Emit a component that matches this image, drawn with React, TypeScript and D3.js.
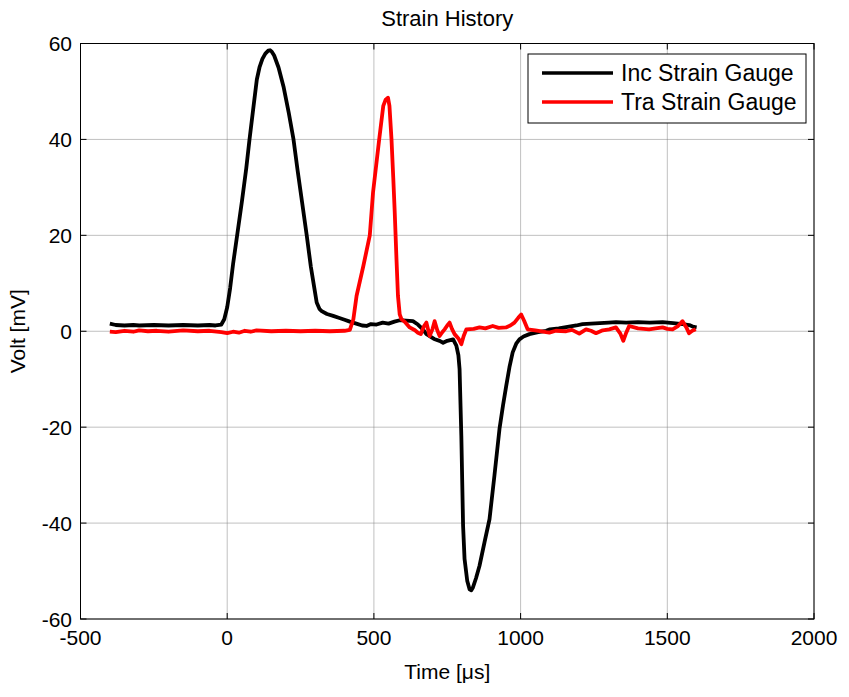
import React from "react";
import * as d3 from "d3";

const xTicks = [-500, 0, 500, 1000, 1500, 2000];
const yTicks = [-60, -40, -20, 0, 20, 40, 60];

const incTime = [-400, -380, -350, -320, -300, -250, -200, -150, -100, -60, -40, -20, -10, 0, 10, 20, 35, 50, 65, 76, 90, 101, 110, 120, 130, 140, 146, 152, 160, 175, 192, 210, 226, 240, 255, 271, 285, 297, 305, 315, 322, 340, 361, 380, 400, 418, 440, 460, 475, 490, 509, 530, 550, 570, 588, 610, 633, 650, 667, 679, 690, 705, 724, 736, 750, 770, 781, 788, 792, 798, 804, 809, 818, 826, 832, 837, 848, 860, 877, 894, 911, 928, 940, 951, 962, 973, 985, 996, 1010, 1030, 1060, 1087, 1100, 1130, 1160, 1190, 1211, 1240, 1270, 1300, 1325, 1360, 1400, 1440, 1484, 1520, 1552, 1575, 1590, 1600];
const incVolt = [1.6, 1.3, 1.2, 1.3, 1.2, 1.3, 1.2, 1.3, 1.2, 1.3, 1.2, 1.4, 2.5, 5, 9, 14, 20.5, 27, 34, 40, 47, 52.5, 55, 56.8, 57.9, 58.5, 58.6, 58.3, 57.5, 55, 51, 45.5, 40, 33.5, 27, 20, 13.5, 9, 6, 4.6, 4.2, 3.6, 3.2, 2.8, 2.4, 2.0, 1.6, 1.2, 1.1, 1.5, 1.4, 1.8, 1.6, 2.0, 2.3, 2.2, 2.1, 1.4, 0.4, -0.6, -1, -1.6, -2.0, -2.4, -2.0, -1.7, -3, -5, -7.9, -21.8, -40.6, -47.5, -52, -53.8, -54, -53.5, -51.5, -48.9, -44, -39.2, -30, -20.4, -15.5, -11.4, -7.5, -4.4, -2.6, -1.7, -1.1, -0.6, -0.2, 0.1, 0.4, 0.6, 0.9, 1.2, 1.5, 1.6, 1.7, 1.8, 1.9, 1.8, 1.9, 1.8, 1.9, 1.7, 1.5, 1.3, 0.9, 0.8];

const traTime = [-400, -380, -350, -320, -300, -270, -240, -200, -150, -100, -60, -20, 0, 20, 40, 60, 80, 100, 150, 200, 250, 300, 350, 400, 418, 430, 441, 464, 486, 497, 518, 532, 540, 548, 553, 560, 566, 571, 577, 582, 588, 594, 605, 622, 640, 650, 660, 670, 679, 690, 700, 707, 716, 724, 733, 741, 750, 758, 766, 775, 788, 798, 806, 815, 840, 860, 880, 905, 925, 950, 965, 979, 992, 1002, 1012, 1024, 1050, 1087, 1098, 1120, 1155, 1175, 1200, 1223, 1240, 1257, 1280, 1302, 1325, 1340, 1350, 1360, 1370, 1400, 1438, 1460, 1484, 1500, 1518, 1535, 1552, 1565, 1574, 1585, 1597];
const traVolt = [-0.1, -0.2, 0.1, -0.1, 0.2, 0, 0.1, -0.1, 0.2, 0, 0.1, -0.2, -0.4, -0.1, -0.3, 0.1, -0.1, 0.2, 0, 0.1, 0, 0.1, 0, 0.1, 0.3, 2.5, 7.4, 13.6, 20, 28.9, 40, 47, 48.3, 48.7, 47, 40, 32, 24.8, 15, 7.4, 3.5, 2.5, 2, 0.8, 0.2, -0.3, -0.6, 1, 1.8, -1, 0.5, 2.1, 0.2, -1, -0.2, 0.4, 1.2, 1.8, 0.5, -0.6, -1.5, -2.7, -1, 0.4, 0.5, 0.8, 0.6, 1.1, 0.7, 0.8, 1.2, 1.8, 2.8, 3.5, 2.2, 0.4, 0.2, -0.2, -0.3, 0.1, 0, 0.3, -0.5, 0.4, 0.1, -0.4, 0.2, 0.4, 0.8, -0.5, -2, -0.3, 1.1, 0.6, 0.4, 0.6, 0.8, 0.5, 0.4, 1, 2.1, 0.8, -0.4, 0.1, 0.4];

const seriesNames = ["Inc Strain Gauge", "Tra Strain Gauge"];
const seriesColors = ["#000000", "#ff0000"];

const W = 849;
const H = 697;
const L = 80.5, R = 814, T = 43.5, B = 619;
const FONT = "'Liberation Sans', Arial, sans-serif";

export default function App() {
  const x = d3.scaleLinear().domain([-500, 2000]).range([L, R]);
  const y = d3.scaleLinear().domain([-60, 60]).range([B, T]);
  const line = d3
    .line<[number, number]>()
    .x((d) => x(d[0]))
    .y((d) => y(d[1]));
  const inc: [number, number][] = incTime.map((t, i) => [t, incVolt[i]]);
  const tra: [number, number][] = traTime.map((t, i) => [t, traVolt[i]]);
  const tick = 6;

  return (
    <svg
      width={W}
      height={H}
      style={{ position: "absolute", left: 0, top: 0, background: "#fff" }}
      fontFamily={FONT}
    >
      <rect x={0} y={0} width={W} height={H} fill="#fff" />
      {xTicks.map((t) => (
        <line key={"gx" + t} x1={x(t)} x2={x(t)} y1={T} y2={B} stroke="#808080" strokeDasharray="1,1" strokeWidth={1} />
      ))}
      {yTicks.map((t) => (
        <line key={"gy" + t} x1={L} x2={R} y1={y(t)} y2={y(t)} stroke="#808080" strokeDasharray="1,1" strokeWidth={1} />
      ))}
      {xTicks.map((t) => (
        <g key={"tx" + t} stroke="#000" strokeWidth={1}>
          <line x1={x(t)} x2={x(t)} y1={B} y2={B - tick} />
          <line x1={x(t)} x2={x(t)} y1={T} y2={T + tick} />
        </g>
      ))}
      {yTicks.map((t) => (
        <g key={"ty" + t} stroke="#000" strokeWidth={1}>
          <line x1={L} x2={L + tick} y1={y(t)} y2={y(t)} />
          <line x1={R} x2={R - tick} y1={y(t)} y2={y(t)} />
        </g>
      ))}
      <path d={line(inc) || ""} fill="none" stroke={seriesColors[0]} strokeWidth={3.8} strokeLinejoin="round" />
      <path d={line(tra) || ""} fill="none" stroke={seriesColors[1]} strokeWidth={3.8} strokeLinejoin="round" />
      <rect x={L} y={T} width={R - L} height={B - T} fill="none" stroke="#000" strokeWidth={1} />
      {xTicks.map((t) => (
        <text key={"lx" + t} x={x(t)} y={645} textAnchor="middle" fontSize={21} fill="#000">
          {t}
        </text>
      ))}
      {yTicks.map((t) => (
        <text key={"ly" + t} x={72} y={y(t) + 7.5} textAnchor="end" fontSize={21} fill="#000">
          {t}
        </text>
      ))}
      <text x={(L + R) / 2} y={26} textAnchor="middle" fontSize={22} fill="#000">
        Strain History
      </text>
      <text x={(L + R) / 2} y={679} textAnchor="middle" fontSize={21} fill="#000">
        Time [μs]
      </text>
      <text transform={`translate(25,${(T + B) / 2}) rotate(-90)`} textAnchor="middle" fontSize={21} fill="#000">
        Volt [mV]
      </text>
      <rect x={528} y={54} width={278} height={69} fill="#fff" stroke="#000" strokeWidth={1} />
      {seriesNames.map((n, i) => (
        <g key={n}>
          <line x1={542} x2={613} y1={73 + i * 29} y2={73 + i * 29} stroke={seriesColors[i]} strokeWidth={3.5} />
          <text x={621} y={73 + i * 29 + 8} fontSize={23} fill="#000">
            {n}
          </text>
        </g>
      ))}
    </svg>
  );
}
